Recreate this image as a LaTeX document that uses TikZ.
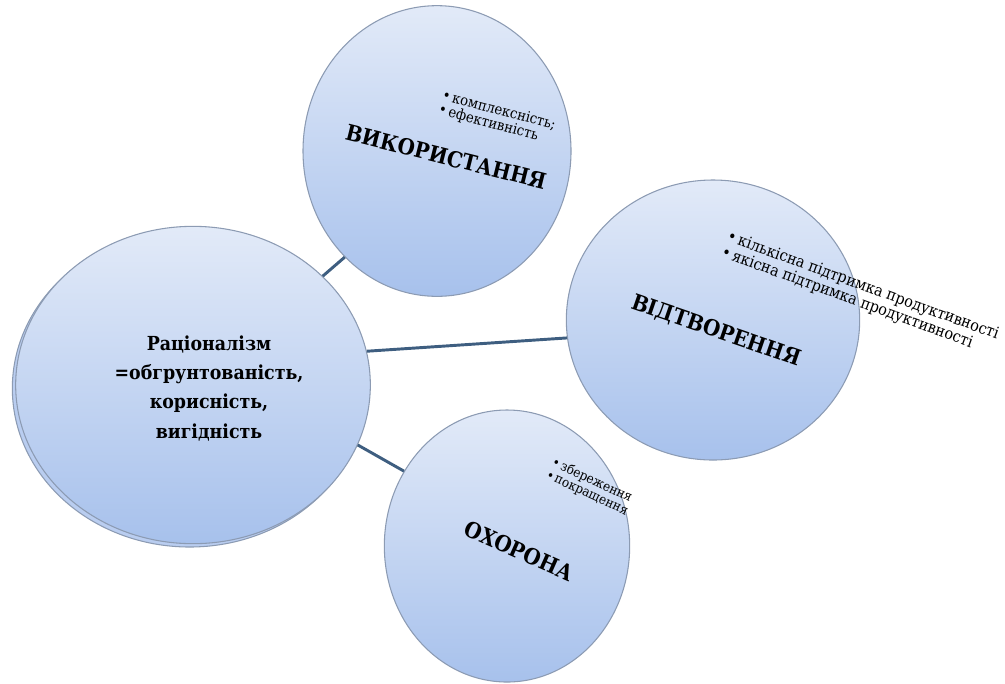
\documentclass[tikz,border=0pt]{standalone}
\usepackage{fontspec}
\setmainfont{DejaVu Serif Condensed}
\usetikzlibrary{shapes.geometric,shadows}

\definecolor{bubbletop}{HTML}{E2EAF8}
\definecolor{bubblebot}{HTML}{A7C1EC}
\definecolor{bubbleline}{HTML}{8C9BB3}
\definecolor{linkblue}{HTML}{3E5E80}

\tikzset{
  bubble/.style={ellipse, draw=bubbleline, line width=0.8pt, top color=bubbletop, bottom color=bubblebot, inner sep=0pt},
  link/.style={draw=linkblue, line width=2.2pt},
  title/.style={font=\bfseries\fontsize{16.5}{20}\selectfont},
  bullets/.style={font=\fontsize{12}{11}\selectfont, align=left},
}

\begin{document}
\begin{tikzpicture}[x=0.75pt, y=-0.75pt]
  \useasboundingbox (0,0) rectangle (1005,683);
  % Define circles
  \node[bubble, minimum width=266pt, minimum height=238pt,
    copy shadow={shadow xshift=-2.5pt, shadow yshift=-2.5pt, fill=bubblebot!80!white, draw=bubbleline}] (rat) at (193,385) {};
  \node[bubble, minimum width=201pt, minimum height=218pt] (vyk) at (437,151) {};
  \node[bubble, minimum width=220pt, minimum height=210pt] (vid) at (713,320) {};
  \node[bubble, minimum width=184pt, minimum height=204pt] (okh) at (507,546) {};

  % Draw links
  \draw[link] (rat.40) -- (vyk.229);
  \draw[link] (rat.11) -- (vid.187);
  \draw[link] (rat.-20) -- (okh.144);

  % Labels
  \node[title, font=\bfseries\fontsize{14.5}{22}\selectfont, align=center] (ratlabel) at (209,388)
    {Раціоналізм\\=обгрунтованість,\\корисність,\\вигідність};
  \node[title, rotate=-14] (vyklabel) at (446,157) {ВИКОРИСТАННЯ};
  \node[title, rotate=-19] (vidlabel) at (716,331) {ВІДТВОРЕННЯ};
  \node[title, rotate=-24] (okhlabel) at (519,551) {ОХОРОНА};

  \node[bullets, font=\fontsize{11}{11}\selectfont, rotate=-15] (vykitems) at (497,118)
    {\textbullet\,комплексність;\\\textbullet\,ефективність};
  \node[bullets, rotate=-20] (viditems) at (860,294)
    {\textbullet\,кількісна підтримка продуктивності\\\textbullet\,якісна підтримка продуктивності};
  \node[bullets, font=\fontsize{10}{10.5}\selectfont, rotate=-25] (okhitems) at (590,487)
    {\textbullet\,збереження\\\textbullet\,покращення};
\end{tikzpicture}
\end{document}
